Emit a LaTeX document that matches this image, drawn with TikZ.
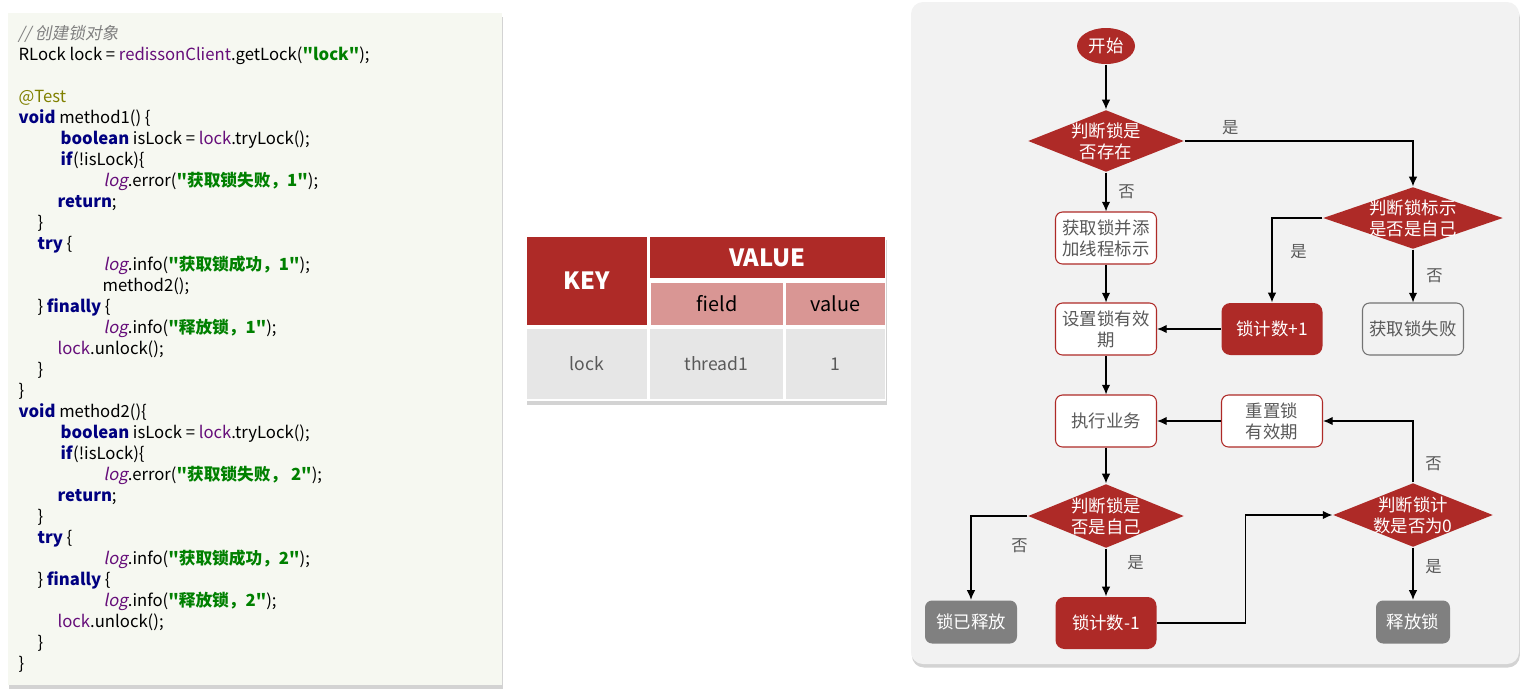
\documentclass[tikz,border=0pt]{standalone}
\usepackage{xcolor}
\usepackage{fontspec}
\setmainfont{Noto Sans CJK SC}[AutoFakeSlant=0.2,Ligatures=TeXOff]
\usepackage{tikz}
\usetikzlibrary{shapes,arrows.meta,positioning,shadows}

\definecolor{boxred}{RGB}{174,42,39}
\definecolor{pinkred}{RGB}{217,150,148}
\definecolor{cellgray}{RGB}{230,230,230}
\definecolor{panelgray}{RGB}{242,242,242}
\definecolor{codebg}{RGB}{246,248,241}
\definecolor{boxgray}{RGB}{128,128,128}
\definecolor{txtgray}{RGB}{89,89,89}
\definecolor{kwblue}{RGB}{0,0,128}
\definecolor{fldpurple}{RGB}{102,14,122}
\definecolor{strgreen}{RGB}{0,128,0}
\definecolor{annolive}{RGB}{128,128,0}

% code colouring
\newcommand{\kw}[1]{\textcolor{kwblue}{\textbf{#1}}}
\newcommand{\fld}[1]{\textcolor{fldpurple}{#1}}
\newcommand{\logv}{\textcolor{fldpurple}{\textit{log}}}
\newcommand{\codestr}[1]{\textcolor{strgreen}{\textbf{#1}}}
\newcommand{\cmt}[1]{\textcolor{gray}{\textit{#1}}}
\newcommand{\ann}[1]{\textcolor{annolive}{#1}}
\newcommand{\codefont}{\fontsize{9.5}{11}\selectfont}
\newcommand{\flowfont}{\fontsize{9.9}{11.8}\selectfont}

\begin{document}
\begin{tikzpicture}[x=0.02cm,y=-0.02cm,>={Latex[length=5.5pt,width=4.8pt]},line width=0.7pt,
  code/.style={anchor=base west,inner sep=0pt,font=\codefont},
  cell/.style={inner sep=0pt,align=center},
  whitebox/.style={draw=boxred,line width=0.6pt,fill=white,rounded corners=4pt,minimum width=2.02cm,minimum height=1.04cm,inner sep=1pt,align=center,text=txtgray,font=\flowfont},
  redbox/.style={fill=boxred,rounded corners=5pt,minimum width=2.02cm,minimum height=1.04cm,text=white,font=\flowfont},
  failbox/.style={draw=gray!110,line width=0.6pt,fill=panelgray,rounded corners=4pt,minimum width=2.02cm,minimum height=1.04cm,text=txtgray,font=\flowfont},
  graybox/.style={fill=boxgray,rounded corners=4pt,minimum height=0.86cm,text=white,font=\flowfont},
  startnode/.style={ellipse,fill=boxred,minimum width=1.16cm,minimum height=0.72cm,inner sep=0pt,text=white,font=\flowfont},
  decision/.style={diamond,fill=boxred,inner sep=0pt},
  dtext/.style={align=center,text=white,font=\flowfont,inner sep=0pt},
  yn/.style={text=txtgray,font=\fontsize{9.3}{11}\selectfont}]
\useasboundingbox (0,0) rectangle (1525,694);

% panels
\fill[codebg,drop shadow={shadow xshift=0.5pt,shadow yshift=-2pt,opacity=0.35}] (8,13) rectangle (502,685);
\fill[white,drop shadow={shadow xshift=0.5pt,shadow yshift=-2pt,opacity=0.35}] (526,236) rectangle (886,401);
\fill[panelgray,rounded corners=0.24cm,drop shadow={shadow xshift=0.5pt,shadow yshift=-2pt,opacity=0.35}] (911,2) rectangle (1519,664);

% code
\node[code] (c0) at (17.5,39.5) {\cmt{// 创建锁对象}};
\node[code] (c1) at (18,60.5) {RLock lock = \fld{redissonClient}.getLock(\codestr{"lock"});};
\node[code] (c3) at (18,102.5) {\ann{@Test}};
\node[code] (c4) at (18,123.5) {\kw{void} method1() \{};
\node[code] (c5) at (60,144.5) {\kw{boolean} isLock = \fld{lock}.tryLock();};
\node[code] (c6) at (60,165.5) {\kw{if}(!isLock)\{};
\node[code] (c7) at (103,186.5) {\logv.error(\codestr{"获取锁失败，1"});};
\node[code] (c8) at (57,207.5) {\kw{return};};
\node[code] (c9) at (37,228.5) {\}};
\node[code] (c10) at (37,249.5) {\kw{try} \{};
\node[code] (c11) at (103,270.5) {\logv.info(\codestr{"获取锁成功，1"});};
\node[code] (c12) at (102,291.5) {method2();};
\node[code] (c13) at (37,312.5) {\} \kw{finally} \{};
\node[code] (c14) at (103,333.5) {\logv.info(\codestr{"释放锁，1"});};
\node[code] (c15) at (57,354.5) {\fld{lock}.unlock();};
\node[code] (c16) at (37,375.5) {\}};
\node[code] (c17) at (18,396.5) {\}};
\node[code] (c18) at (18,417.5) {\kw{void} method2()\{};
\node[code] (c19) at (60,438.5) {\kw{boolean} isLock = \fld{lock}.tryLock();};
\node[code] (c20) at (60,459.5) {\kw{if}(!isLock)\{};
\node[code] (c21) at (103,480.5) {\logv.error(\codestr{"获取锁失败， 2"});};
\node[code] (c22) at (57,501.5) {\kw{return};};
\node[code] (c23) at (37,522.5) {\}};
\node[code] (c24) at (37,543.5) {\kw{try} \{};
\node[code] (c25) at (103,564.5) {\logv.info(\codestr{"获取锁成功，2"});};
\node[code] (c26) at (37,585.5) {\} \kw{finally} \{};
\node[code] (c27) at (103,606.5) {\logv.info(\codestr{"释放锁，2"});};
\node[code] (c28) at (57,627.5) {\fld{lock}.unlock();};
\node[code] (c29) at (37,648.5) {\}};
\node[code] (c30) at (18,669.5) {\}};

% hash table
\node[cell,fill=boxred,text=white,font=\fontsize{13.5}{16}\selectfont\bfseries,minimum width=2.4cm,minimum height=1.76cm] (key) at (587,281) {KEY};
\node[cell,fill=boxred,text=white,font=\fontsize{13.5}{16}\selectfont\bfseries,minimum width=4.7cm,minimum height=0.82cm] (val) at (767.5,257.5) {VALUE};
\node[cell,fill=pinkred,font=\fontsize{11.3}{13}\selectfont,minimum width=2.64cm,minimum height=0.84cm] (field) at (717,304) {field};
\node[cell,fill=pinkred,font=\fontsize{11.3}{13}\selectfont,minimum width=1.98cm,minimum height=0.84cm] (value) at (835.5,304) {value};
\node[cell,fill=cellgray,text=txtgray,font=\fontsize{10}{12}\selectfont,minimum width=2.4cm,minimum height=1.4cm] (klock) at (587,364) {lock};
\node[cell,fill=cellgray,text=txtgray,font=\fontsize{10}{12}\selectfont,minimum width=2.66cm,minimum height=1.4cm] (kthread) at (716.5,364) {thread1};
\node[cell,fill=cellgray,text=txtgray,font=\fontsize{10}{12}\selectfont,minimum width=1.98cm,minimum height=1.4cm] (kone) at (835.5,364) {1};

% flow chart
\node[startnode] (start) at (1106,46) {开始};
\node[decision,minimum width=3.12cm,minimum height=1.24cm,label={[dtext]center:判断锁是\\否存在}] (exist) at (1106,141) {};
\node[decision,minimum width=3.6cm,minimum height=1.24cm,label={[dtext]center:判断锁标示\\是否是自己}] (own1) at (1413,218) {};
\node[whitebox] (addlock) at (1106,238) {获取锁并添\\加线程标示};
\node[whitebox] (setexp) at (1106,329) {设置锁有效\\期};
\node[redbox] (plus) at (1272,329) {锁计数+1};
\node[failbox] (fail) at (1413,329) {获取锁失败};
\node[whitebox] (work) at (1106,421) {执行业务};
\node[whitebox] (reset) at (1272,421) {重置锁\\有效期};
\node[decision,minimum width=3.12cm,minimum height=1.28cm,label={[dtext]center:判断锁是\\否是自己}] (own2) at (1106,516) {};
\node[decision,minimum width=3.2cm,minimum height=1.28cm,label={[dtext]center:判断锁计\\数是否为0}] (zero) at (1413,515) {};
\node[graybox,minimum width=1.84cm] (released) at (971,622) {锁已释放};
\node[redbox] (minus) at (1106,623) {锁计数-1};
\node[graybox,minimum width=1.48cm] (free) at (1413,622) {释放锁};

\draw[->] (start) -- (exist);
\draw[->] (exist) -- node[yn,right,xshift=1.2mm] {否} (addlock);
\draw[->] (exist.east) -| node[yn,above,pos=0.1] {是} (own1.north);
\draw[->] (own1.west) -| node[yn,right,pos=0.7,xshift=2.4mm] {是} (plus.north);
\draw[->] (own1) -- node[yn,right,xshift=1.4mm] {否} (fail);
\draw[->] (addlock) -- (setexp);
\draw[->] (plus) -- (setexp);
\draw[->] (setexp) -- (work);
\draw[->] (reset) -- (work);
\draw[->] (work) -- (own2);
\draw[->] (own2.west) -| node[yn,right,pos=0.68,xshift=6.8mm] {否} (released.north);
\draw[->] (own2) -- node[yn,right,pos=0.3,xshift=3mm] {是} (minus);
\draw[->] (minus.east) -- ++(88,0) |- (zero.west);
\draw[->] (zero.north) |- node[yn,right,pos=0.15,xshift=1.2mm] {否} (reset.east);
\draw[->] (zero) -- node[yn,right,pos=0.37,xshift=1.2mm] {是} (free);

\end{tikzpicture}
\end{document}
